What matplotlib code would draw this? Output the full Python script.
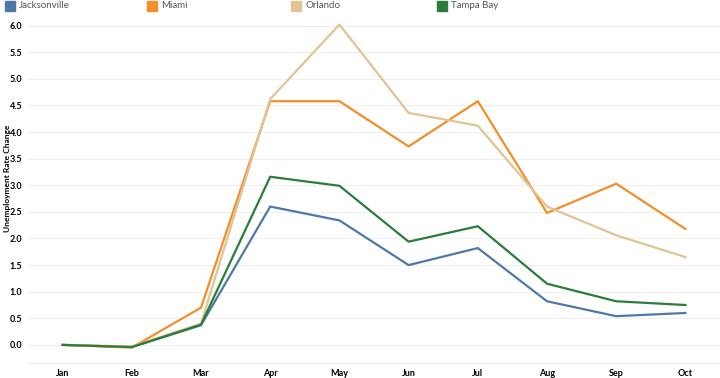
import matplotlib.pyplot as plt
import numpy as np

months = ["Jan", "Feb", "Mar", "Apr", "May", "Jun", "Jul", "Aug", "Sep", "Oct"]
jacksonville = [0.0, -0.04, 0.37, 2.60, 2.34, 1.50, 1.82, 0.82, 0.54, 0.60]
miami = [0.0, -0.05, 0.70, 4.58, 4.58, 3.73, 4.58, 2.48, 3.03, 2.18]
orlando = [0.0, -0.03, 0.40, 4.62, 6.02, 4.36, 4.12, 2.60, 2.06, 1.65]
tampa_bay = [0.0, -0.04, 0.38, 3.16, 2.99, 1.94, 2.23, 1.15, 0.82, 0.75]

names = ["Jacksonville", "Miami", "Orlando", "Tampa Bay"]
colors = ["#4e79a7", "#f28e2b", "#e2c393", "#2a7d3b"]
series = [jacksonville, miami, orlando, tampa_bay]

plt.rcParams['font.family'] = ['Lato', 'DejaVu Sans']

fig = plt.figure(figsize=(7.2, 3.78), dpi=100)
ax = fig.add_axes([28 / 720, 15 / 378, 692 / 720, 348 / 378])

x = np.arange(len(months))
# draw order: Orlando behind, then others
for i in [2, 1, 3, 0]:
    ax.plot(x, series[i], color=colors[i], linewidth=1.6, label=names[i], zorder=3 + i)

ax.set_xlim(-0.5, len(months) - 0.5)
ax.set_ylim(-0.34, 6.2)
ax.set_yticks(np.arange(0, 6.01, 0.5))
ax.set_yticklabels([f"{v:.1f}" for v in np.arange(0, 6.01, 0.5)])
ax.set_xticks(x)
ax.set_xticklabels(months)

ax.grid(axis="y", color="#efefef", linewidth=0.8, zorder=0)
ax.axhline(0, color="#dddddd", linewidth=0.8, zorder=1)
for s in ["top", "right", "left"]:
    ax.spines[s].set_visible(False)
ax.spines["bottom"].set_color("#eeeeee")

ax.tick_params(axis="both", which="major", length=0, labelsize=6.5, pad=4)
for lbl in ax.get_xticklabels() + ax.get_yticklabels():
    lbl.set_fontweight("bold")

fig.text(4 / 720, 1 - 178 / 378, "Unemployment Rate Change", fontsize=6,
         fontweight="bold", rotation=90, ha="left", va="center")

# legend along the top
legend_x = [5, 147, 291, 437]
for lx, name, c in zip(legend_x, names, colors):
    fig.patches.append(plt.Rectangle((lx / 720, (378 - 11) / 378), 10 / 720, 10 / 378,
                                     transform=fig.transFigure, color=c, figure=fig))
    fig.text((lx + 14) / 720, (378 - 6) / 378, name, fontsize=7, color="#555555",
             va="center", ha="left")

fig.savefig("out.png", dpi=100)
